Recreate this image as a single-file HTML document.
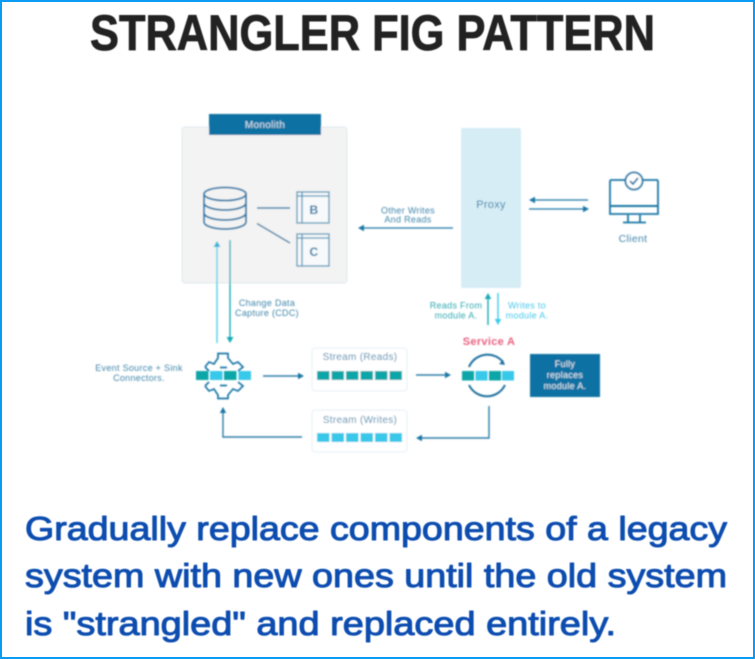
<!DOCTYPE html>
<html><head><meta charset="utf-8"><style>
html,body{margin:0;padding:0;background:#fff}
svg{display:block}
text{font-family:"Liberation Sans",sans-serif}
.d text{text-anchor:middle;font-size:9px;letter-spacing:.3px}
</style></head><body>
<svg width="755" height="659" viewBox="0 0 755 659" xmlns="http://www.w3.org/2000/svg">
<defs>
<filter id="b" x="-5%" y="-5%" width="110%" height="110%"><feGaussianBlur stdDeviation="0.7"/></filter>
<filter id="t" x="-5%" y="-20%" width="110%" height="140%"><feGaussianBlur stdDeviation="0.4"/></filter>
</defs>
<rect width="755" height="659" fill="#fff"/>
<text x="90" y="50" font-size="50" font-weight="700" fill="#222" stroke="#222" stroke-width="0.8" textLength="565" lengthAdjust="spacingAndGlyphs" filter="url(#t)">STRANGLER FIG PATTERN</text>
<g class="d" filter="url(#b)">
<!-- Monolith -->
<rect x="182" y="127" width="165" height="156" rx="3" fill="#f3f3f3" stroke="#dfeaf0"/>
<rect x="209" y="114" width="112" height="21" fill="#0771a3"/>
<text x="265" y="128" fill="#d8eaf2" style="font-size:10px">Monolith</text>
<!-- DB -->
<g fill="none" stroke="#1c77a6" stroke-width="1.8">
<ellipse cx="225" cy="194" rx="21" ry="6.5"/>
<path d="M204 194V222C204 226 214 229 225 229S246 226 246 222V194"/>
<path d="M204 203C204 207 214 210 225 210S246 207 246 203"/>
<path d="M204 213C204 217 214 220 225 220S246 217 246 213"/>
</g>
<path d="M257 208H290M257 223.5L290 243" stroke="#2f7ea8" stroke-width="1.4" fill="none"/>
<g stroke="#4f95b8" stroke-width="1.3">
<rect x="297" y="192" width="32" height="31" fill="#f7f9fa"/><path d="M297 196H329M302 192V223" fill="none"/>
<rect x="297" y="234" width="32" height="32" fill="#f7f9fa"/><path d="M297 238H329M302 234V266" fill="none"/>
</g>
<text x="314" y="214" font-weight="700" fill="#1c77a6" style="font-size:12px">B</text>
<text x="314" y="256" font-weight="700" fill="#1c77a6" style="font-size:12px">C</text>
<!-- CDC arrows -->
<path d="M217 343V246" stroke="#4fd0ec" stroke-width="1.4"/><path d="M217 241l-3.5 6h7z" fill="#35b7d8"/>
<path d="M230 240V338" stroke="#16abb5" stroke-width="1.4"/><path d="M230 343l-3.5-6h7z" fill="#16abb5"/>
<text x="267" y="306" fill="#3f86ab">Change Data</text>
<text x="267" y="316" fill="#3f86ab">Capture (CDC)</text>
<!-- Proxy -->
<rect x="461" y="128" width="60" height="160" rx="2" fill="#d6edf6"/>
<text x="491" y="208" fill="#2f7ea8" style="font-size:11px">Proxy</text>
<path d="M453 228H363" stroke="#1c77a6" stroke-width="1.3"/><path d="M358 228l6-3.2v6.4z" fill="#1c77a6"/>
<text x="408" y="213.500" fill="#3f86ab">Other Writes</text>
<text x="408" y="222.500" fill="#3f86ab">And Reads</text>
<path d="M588 200H534" stroke="#1c77a6" stroke-width="1.3"/><path d="M529 200l6-3.2v6.4z" fill="#1c77a6"/>
<path d="M529 209H583" stroke="#1c77a6" stroke-width="1.3"/><path d="M589 209l-6-3.2v6.4z" fill="#1c77a6"/>
<!-- Client -->
<g fill="none" stroke="#1c77a6" stroke-width="1.8">
<path d="M625 180H611Q610 180 610 182V214H658V182Q658 180 657 180H643"/>
<path d="M610 206H658" stroke-width="2"/>
<path d="M628 215V222M640 215V222M623 222.500H646"/>
<circle cx="634" cy="181" r="8.500" fill="#fff"/>
<path d="M630 181l3 3 5-6"/>
</g>
<text x="633" y="242" fill="#3f86ab" style="font-size:10.500px">Client</text>
<!-- Reads/Writes -->
<path d="M488 325V299" stroke="#16abb5" stroke-width="1.4"/><path d="M488 293l-3.3 6h6.600z" fill="#16abb5"/>
<path d="M498 293V320" stroke="#3ecbea" stroke-width="1.4"/><path d="M498 325l-3.3-6h6.600z" fill="#3ecbea"/>
<text x="456" y="308.500" fill="#2ea9b3">Reads From</text>
<text x="456" y="318.500" fill="#2ea9b3">module A.</text>
<text x="527" y="308.500" fill="#45c9ea">Writes to</text>
<text x="527" y="318.500" fill="#45c9ea">module A.</text>
<text x="489" y="345" font-weight="700" fill="#e8607f" style="font-size:11px">Service A</text>
<!-- Connector gear -->
<g fill="none" stroke="#1c77a6" stroke-width="1.7">
<path d="M205 367L209 362L214 364L218 358V353.500H228V358L233 364L238 362L243 367L238 371"/>
<path d="M209 371L205 367"/>
<path d="M205 386L209 391L214 389L218 395V398.500H228V395L233 389L238 391L243 386L238 382"/>
<path d="M209 382L205 386"/>
<path d="M220 367.500H227M220 385.500H227"/>
</g>
<g>
<rect x="196" y="371" width="12.500" height="9" fill="#0aa6a8"/><rect x="210" y="371" width="12.500" height="9" fill="#38c8ea"/><rect x="224" y="371" width="12.500" height="9" fill="#0aa6a8"/><rect x="238.500" y="371" width="12.500" height="9" fill="#38c8ea"/>
</g>
<text x="139" y="371" fill="#3f86ab">Event Source + Sink</text>
<text x="139" y="381" fill="#3f86ab">Connectors.</text>
<path d="M263 376H298" stroke="#2f7ea8" stroke-width="1.4"/><path d="M304 376l-6-3.200v6.400z" fill="#1c77a6"/>
<!-- Streams -->
<rect x="312" y="348" width="95" height="43" rx="3" fill="#fff" stroke="#e6f1f6"/>
<rect x="312" y="410" width="95" height="42" rx="3" fill="#fff" stroke="#e6f1f6"/>
<text x="360" y="360" fill="#3f86ab" style="font-size:10px">Stream (Reads)</text>
<text x="360" y="423" fill="#3f86ab" style="font-size:10px">Stream (Writes)</text>
<g fill="#0aa6a8">
<rect x="317" y="371" width="12.500" height="9"/><rect x="331.500" y="371" width="12.500" height="9"/><rect x="346" y="371" width="12.500" height="9"/><rect x="360.500" y="371" width="12.500" height="9"/><rect x="375" y="371" width="12.500" height="9"/><rect x="389.500" y="371" width="12.500" height="9"/>
</g>
<g fill="#38c8ea">
<rect x="317" y="433" width="12.500" height="9"/><rect x="331.500" y="433" width="12.500" height="9"/><rect x="346" y="433" width="12.500" height="9"/><rect x="360.500" y="433" width="12.500" height="9"/><rect x="375" y="433" width="12.500" height="9"/><rect x="389.500" y="433" width="12.500" height="9"/>
</g>
<path d="M416 375H446" stroke="#2f7ea8" stroke-width="1.4"/><path d="M451 375l-6-3.200v6.400z" fill="#1c77a6"/>
<!-- Service A -->
<g fill="none" stroke="#1c6f9e" stroke-width="2">
<path d="M469 367A20 20 0 0 1 503 362"/>
<path d="M469 385A20 20 0 0 0 505 385"/>
</g>
<path d="M505 365l-6-1 4-4z" fill="#1c6f9e"/>
<rect x="462" y="371" width="12" height="9.500" fill="#0aa6a8"/><rect x="475.500" y="371" width="12" height="9.500" fill="#38c8ea"/><rect x="489" y="371" width="12" height="9.500" fill="#0aa6a8"/><rect x="502" y="371" width="12" height="9.500" fill="#38c8ea"/>
<rect x="530" y="354" width="70" height="43" fill="#0771a3"/>
<text x="565" y="367" fill="#e3f0f6">Fully</text>
<text x="565" y="378" fill="#e3f0f6">replaces</text>
<text x="565" y="389" fill="#e3f0f6">module A.</text>
<path d="M489 406V438H421" fill="none" stroke="#2f7ea8" stroke-width="1.400"/><path d="M416 438l6-3.200v6.400z" fill="#1c77a6"/>
<path d="M302 437H223V412" fill="none" stroke="#2f7ea8" stroke-width="1.400"/><path d="M223 407l-3.200 6h6.400z" fill="#1c77a6"/>
</g>
<g font-size="33" fill="#0a4db0" stroke="#0a4db0" stroke-width="1" stroke-linejoin="round" filter="url(#t)">
<text x="25" y="540" textLength="702" lengthAdjust="spacingAndGlyphs">Gradually replace components of a legacy</text>
<text x="25" y="587" textLength="702" lengthAdjust="spacingAndGlyphs">system with new ones until the old system</text>
<text x="25" y="635" textLength="591" lengthAdjust="spacingAndGlyphs">is "strangled" and replaced entirely.</text>
</g>
<rect x="1" y="1" width="753" height="657" fill="none" stroke="#0a9bf5" stroke-width="2"/>
</svg>
</body></html>
